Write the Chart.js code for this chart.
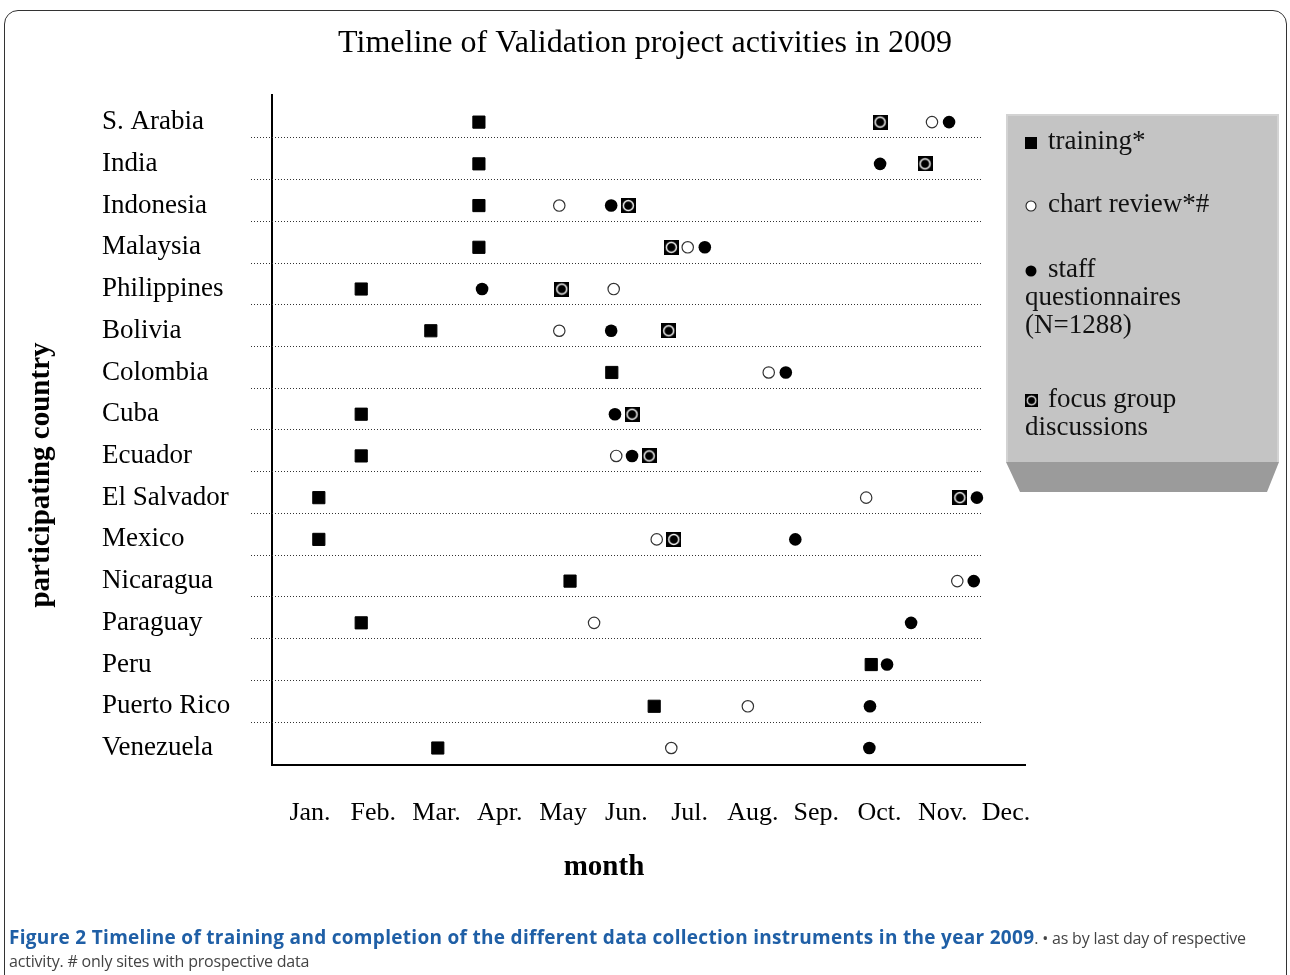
<!DOCTYPE html>
<html>
<head>
<meta charset="utf-8">
<script src="https://cdn.jsdelivr.net/npm/chart.js@4.4.1/dist/chart.umd.min.js"></script>
<style>
  html, body { margin: 0; padding: 0; background: #fff; width: 1290px; height: 975px; overflow: hidden; }
  #wrap { position: absolute; left: 0; top: 0; width: 1290px; height: 975px; }
  #frame { position: absolute; left: 4px; top: 10px; width: 1283px; height: 1010px; border: 1.5px solid #333;
           border-radius: 14px; box-sizing: border-box; pointer-events: none; }
  #caption { position: absolute; left: 9px; top: 926px; font-family: 'Open Sans', sans-serif;
             line-height: 23px; color: #444; white-space: nowrap; font-size: 16px; letter-spacing: -0.2px; }
  #caption b { color: #1f5fa6; font-weight: 700; font-size: 19px; letter-spacing: 0.3px; }
</style>
</head>
<body>
<div id="wrap"><canvas id="c" width="1290" height="975"></canvas></div>
<div id="frame"></div>
<div id="caption"><b>Figure 2 Timeline of training and completion of the different data collection instruments in the year 2009</b>. • as by last day of respective<br>activity. # only sites with prospective data</div>
<script>
// ---------- data ----------
const countries = ['S. Arabia', 'India', 'Indonesia', 'Malaysia', 'Philippines', 'Bolivia', 'Colombia', 'Cuba',
  'Ecuador', 'El Salvador', 'Mexico', 'Nicaragua', 'Paraguay', 'Peru', 'Puerto Rico', 'Venezuela'];
const monthLabels = ['Jan.', 'Feb.', 'Mar.', 'Apr.', 'May', 'Jun.', 'Jul.', 'Aug.', 'Sep.', 'Oct.', 'Nov.', 'Dec.'];
// month position (1 = Jan.) of each activity per country, null = none
const trainingMonth    = [3.67, 3.67, 3.67, 3.67, 1.81, 2.91, 5.77, 1.81, 1.81, 1.14, 1.14, 5.11, 1.81, 9.87, 6.44, 3.02];
const chartReviewMonth = [10.83, null, 4.94, 6.97, 5.80, 4.94, 8.25, null, 5.84, 9.79, 6.48, 11.23, 5.49, null, 7.92, 6.71];
const staffMonth       = [11.10, 10.01, 5.76, 7.24, 3.72, 5.76, 8.52, 5.82, 6.09, 11.54, 8.67, 11.49, 10.50, 10.12, 9.85, 9.84];
const focusGroupMonth  = [10.01, 10.72, 6.03, 6.71, 4.98, 6.67, null, 6.09, 6.36, 11.27, 6.75, null, null, null, null, null];
const seriesNames = ['training*', 'chart review*#', 'staff questionnaires (N=1288)', 'focus group discussions'];

// ---------- helpers ----------
const toPoints = arr => arr.map((m, i) => (m == null ? null : { x: m, y: i })).filter(p => p);

function focusMarker() {
  const s = 15;
  const c = document.createElement('canvas');
  c.width = s; c.height = s;
  const g = c.getContext('2d');
  g.fillStyle = '#000';
  g.fillRect(0, 0, s, s);
  g.strokeStyle = '#fff';
  g.lineWidth = 1.4;
  g.beginPath();
  g.arc(s / 2, s / 2, 5, 0, Math.PI * 2);
  g.stroke();
  return c;
}
const focusImg = focusMarker();

const SERIF = "'Liberation Serif', 'Times New Roman', serif";
Chart.defaults.font.family = SERIF;
Chart.defaults.color = '#000';

// dotted row rules
const rowRules = {
  id: 'rowRules',
  beforeDatasetsDraw(chart) {
    const { ctx, chartArea, scales: { y } } = chart;
    ctx.save();
    ctx.strokeStyle = '#333';
    ctx.lineWidth = 1;
    ctx.setLineDash([1, 2]);
    for (let i = 0; i < countries.length - 1; i++) {
      const py = Math.round(y.getPixelForValue(i + 0.365)) + 0.5;
      ctx.beginPath();
      ctx.moveTo(chartArea.left - 21, py);
      ctx.lineTo(chartArea.right - 42, py);
      ctx.stroke();
    }
    ctx.restore();
  }
};

// axis titles
const axisTitles = {
  id: 'axisTitles',
  afterDraw(chart) {
    const ctx = chart.ctx;
    ctx.save();
    ctx.fillStyle = '#000';
    ctx.font = 'bold 29px ' + SERIF;
    ctx.textAlign = 'center';
    ctx.textBaseline = 'middle';
    ctx.fillText('month', 604, 868);
    ctx.translate(42, 475);
    ctx.rotate(-Math.PI / 2);
    ctx.fillText('participating country', 0, 0);
    ctx.restore();
  }
};

// boxed legend
const legendBox = {
  id: 'legendBox',
  afterDraw(chart) {
    const ctx = chart.ctx;
    const L = 1006, R = 1279, T = 114, B = 462, BB = 492;
    ctx.save();
    ctx.fillStyle = '#9b9b9b';
    ctx.beginPath();
    ctx.moveTo(L, B); ctx.lineTo(R, B); ctx.lineTo(R - 12, BB); ctx.lineTo(L + 14, BB); ctx.closePath();
    ctx.fill();
    ctx.fillStyle = '#c4c4c4';
    ctx.fillRect(L, T, R - L, B - T);
    ctx.fillStyle = '#d3d3d3';
    ctx.fillRect(L, T, R - L, 2);
    ctx.fillRect(L, T, 2, B - T);
    ctx.fillRect(R - 2, T, 2, B - T);

    // symbols
    const sx = 1031;
    ctx.fillStyle = '#000';
    ctx.fillRect(sx - 6, 137, 12, 12);                     // training
    ctx.beginPath(); ctx.arc(sx, 206, 5, 0, Math.PI * 2);  // chart review
    ctx.fillStyle = '#fff'; ctx.fill();
    ctx.strokeStyle = '#222'; ctx.lineWidth = 1.1; ctx.stroke();
    ctx.fillStyle = '#000';
    ctx.beginPath(); ctx.arc(sx, 271, 5.5, 0, Math.PI * 2); ctx.fill();   // staff
    ctx.drawImage(focusImg, sx - 6, 394, 13, 13);           // focus group

    // texts
    ctx.fillStyle = '#111';
    ctx.font = '27px ' + SERIF;
    ctx.textAlign = 'left';
    ctx.textBaseline = 'alphabetic';
    ctx.fillText('training*', 1048, 149);
    ctx.fillText('chart review*#', 1048, 212);
    ctx.fillText('staff', 1048, 277);
    ctx.fillText('questionnaires', 1025, 305);
    ctx.fillText('(N=1288)', 1025, 333);
    ctx.fillText('focus group', 1048, 407);
    ctx.fillText('discussions', 1025, 435);
    ctx.restore();
  }
};

const hiddenAxis = (pos, w, weight) => ({
  type: 'linear', position: pos, weight: weight, display: true,
  grid: { display: false, drawTicks: false }, border: { display: false }, ticks: { display: false },
  afterFit: s => { s.width = w; }
});

const common = { xAxisID: 'x', yAxisID: 'y' };

new Chart(document.getElementById('c'), {
  type: 'scatter',
  data: {
    datasets: [
      { ...common, label: seriesNames[0], data: toPoints(trainingMonth), pointStyle: 'rect', pointRadius: 8.6,
        pointHoverRadius: 8.6, backgroundColor: '#000', borderColor: '#000', borderWidth: 1 },
      { ...common, label: seriesNames[1], data: toPoints(chartReviewMonth), pointStyle: 'circle', pointRadius: 5.7,
        pointHoverRadius: 5.7, backgroundColor: '#fff', borderColor: '#333', borderWidth: 1.2 },
      { ...common, label: seriesNames[2], data: toPoints(staffMonth), pointStyle: 'circle', pointRadius: 6.3,
        pointHoverRadius: 6.3, backgroundColor: '#000', borderColor: '#000', borderWidth: 0 },
      { ...common, label: seriesNames[3], data: toPoints(focusGroupMonth), pointStyle: focusImg, pointRadius: 8,
        pointHoverRadius: 8 }
    ]
  },
  options: {
    responsive: false,
    animation: false,
    events: [],
    layout: { padding: { top: 12, left: 0, right: 0, bottom: 0 } },
    plugins: {
      legend: { display: false },
      tooltip: { enabled: false },
      title: {
        display: true, text: 'Timeline of Validation project activities in 2009', color: '#000',
        font: { size: 32, weight: 'normal', family: SERIF }, padding: { top: 12, bottom: 32.6 }
      }
    },
    scales: {
      yPad: hiddenAxis('left', 102, 2),
      y: {
        type: 'linear', position: 'left', weight: 1, reverse: true, min: -0.65, max: 15.4,
        afterBuildTicks: s => { s.ticks = countries.map((_, i) => ({ value: i })); },
        ticks: { autoSkip: false, crossAlign: 'far', padding: 0, color: '#000', font: { size: 27 },
                 callback: v => countries[v] },
        grid: { display: false, drawTicks: false },
        border: { display: true, color: '#000', width: 2 },
        afterFit: s => { s.width = 170; }
      },
      yRight: hiddenAxis('right', 265, 1),
      x: {
        type: 'linear', position: 'bottom', min: 0.4, max: 12.3,
        afterBuildTicks: s => { s.ticks = monthLabels.map((_, i) => ({ value: i + 1 })); },
        ticks: { autoSkip: false, maxRotation: 0, minRotation: 0, padding: 32.7, color: '#000', font: { size: 26 },
                 callback: v => monthLabels[v - 1] },
        grid: { display: false, drawTicks: false },
        border: { display: true, color: '#000', width: 2 },
        afterFit: s => { s.height = 210.3; }
      }
    }
  },
  plugins: [rowRules, axisTitles, legendBox]
});
</script>
</body>
</html>
